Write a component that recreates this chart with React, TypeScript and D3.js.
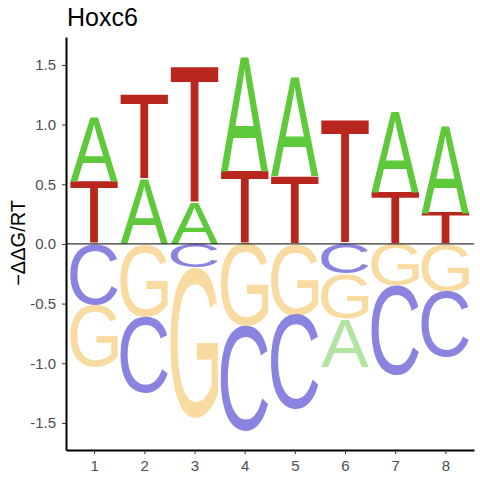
import React, { useEffect, useRef } from "react";
import * as d3 from "d3";

// positions along the binding site
const positions = [1, 2, 3, 4, 5, 6, 7, 8];

const energyA = [0.54, 0.54, 0.34, 0.96, 0.83, -0.4, 0.68, 0.73];
const energyC = [-0.51, -0.64, -0.2, -0.88, -0.79, -0.25, -0.75, -0.55];
const energyG = [-0.52, -0.61, -1.26, -0.69, -0.6, -0.38, -0.35, -0.4];
const energyT = [0.52, 0.71, 1.14, 0.61, 0.57, 1.03, 0.43, 0.26];

const bases = ["A", "C", "G", "T"];
const energies = [energyA, energyC, energyG, energyT];

const yTicks = [-1.5, -1.0, -0.5, 0, 0.5, 1.0, 1.5];

const posColors: Record<string, string> = {
  A: "#5ec93a",
  C: "#4c43c8",
  G: "#f6b13c",
  T: "#b8261d",
};
const negColors: Record<string, string> = {
  A: "#b2e5a2",
  C: "#8a83e0",
  G: "#f9daa1",
  T: "#e29e98",
};

const FONT = '"Liberation Sans", Arial, sans-serif';

const App: React.FC = () => {
  const svgRef = useRef<SVGSVGElement | null>(null);
  const width = 480;
  const height = 480;

  useEffect(() => {
    document.body.style.margin = "0";
    const margin = { top: 37, right: 6, bottom: 30, left: 66 };

    const svg = d3.select(svgRef.current);
    svg.selectAll("*").remove();

    const x = d3
      .scaleLinear()
      .domain([0.44, 8.57])
      .range([margin.left, width - margin.right]);
    const y = d3
      .scaleLinear()
      .domain([-1.727, 1.734])
      .range([height - margin.bottom, margin.top]);

    // measure tight glyph boxes once
    const ctx = document.createElement("canvas").getContext("2d")!;
    ctx.font = `100px ${FONT}`;
    const glyph: Record<string, { l: number; r: number; a: number; d: number }> = {};
    bases.forEach((b) => {
      const m = ctx.measureText(b);
      glyph[b] = {
        l: m.actualBoundingBoxLeft,
        r: m.actualBoundingBoxRight,
        a: m.actualBoundingBoxAscent,
        d: m.actualBoundingBoxDescent,
      };
    });

    // stack letters: smallest next to zero
    const letters: { pos: number; base: string; y0: number; y1: number; neg: boolean }[] = [];
    positions.forEach((p, i) => {
      const vals = bases.map((b, k) => ({ base: b, v: energies[k][i] }));
      const up = vals.filter((d) => d.v > 0).sort((a, b) => a.v - b.v);
      const down = vals.filter((d) => d.v < 0).sort((a, b) => b.v - a.v);
      let acc = 0;
      up.forEach((d) => {
        letters.push({ pos: p, base: d.base, y0: acc, y1: acc + d.v, neg: false });
        acc += d.v;
      });
      acc = 0;
      down.forEach((d) => {
        letters.push({ pos: p, base: d.base, y0: acc + d.v, y1: acc, neg: true });
        acc += d.v;
      });
    });

    const letterWidth = 0.95;
    const logo = svg.append("g");
    logo
      .selectAll("text")
      .data(letters)
      .enter()
      .append("text")
      .attr("font-family", FONT)
      .attr("font-size", 100)
      .attr("fill", (d) => (d.neg ? negColors[d.base] : posColors[d.base]))
      .attr("transform", (d) => {
        const g = glyph[d.base];
        const bx = x(d.pos - letterWidth / 2);
        const bw = x(d.pos + letterWidth / 2) - bx;
        const by = y(d.y1);
        const bh = y(d.y0) - by;
        const sx = bw / (g.l + g.r);
        const sy = bh / (g.a + g.d);
        return `translate(${bx + g.l * sx},${by + g.a * sy}) scale(${sx},${sy})`;
      })
      .text((d) => d.base);

    // zero line
    svg
      .append("line")
      .attr("x1", margin.left)
      .attr("x2", width - margin.right)
      .attr("y1", y(0))
      .attr("y2", y(0))
      .attr("stroke", "black")
      .attr("stroke-width", 1);

    // axes
    const xAxis = svg
      .append("g")
      .attr("transform", `translate(0,${height - margin.bottom})`)
      .call(
        d3
          .axisBottom(x)
          .tickValues(positions)
          .tickFormat(d3.format("d") as any)
          .tickSize(4)
          .tickSizeOuter(0)
          .tickPadding(6)
      );
    const yAxis = svg
      .append("g")
      .attr("transform", `translate(${margin.left},0)`)
      .call(
        d3
          .axisLeft(y)
          .tickValues(yTicks)
          .tickFormat(d3.format(".1f") as any)
          .tickSize(4)
          .tickSizeOuter(0)
          .tickPadding(6)
      );
    yAxis.selectAll(".tick text").text((d: any) => d3.format(".1f")(d).replace("\u2212", "-"));
    [xAxis, yAxis].forEach((ax) => {
      ax.select(".domain").attr("stroke", "black").attr("stroke-width", 2);
      ax.selectAll(".tick line").attr("stroke", "#333333").attr("stroke-width", 1);
      ax.selectAll(".tick text")
        .attr("fill", "#4d4d4d")
        .attr("font-size", 15)
        .attr("font-family", FONT);
    });

    // title and axis label
    svg
      .append("text")
      .attr("x", 67)
      .attr("y", 26)
      .attr("font-size", 25)
      .attr("font-family", FONT)
      .attr("fill", "black")
      .text("Hoxc6");

    svg
      .append("text")
      .attr("transform", `translate(25,${y(0) - 1}) rotate(-90)`)
      .attr("text-anchor", "middle")
      .attr("font-size", 20)
      .attr("font-family", FONT)
      .attr("fill", "black")
      .text("\u2212\u0394\u0394G/RT");
  }, []);

  return <svg ref={svgRef} width={width} height={height} style={{ display: "block" }} />;
};

export default App;
